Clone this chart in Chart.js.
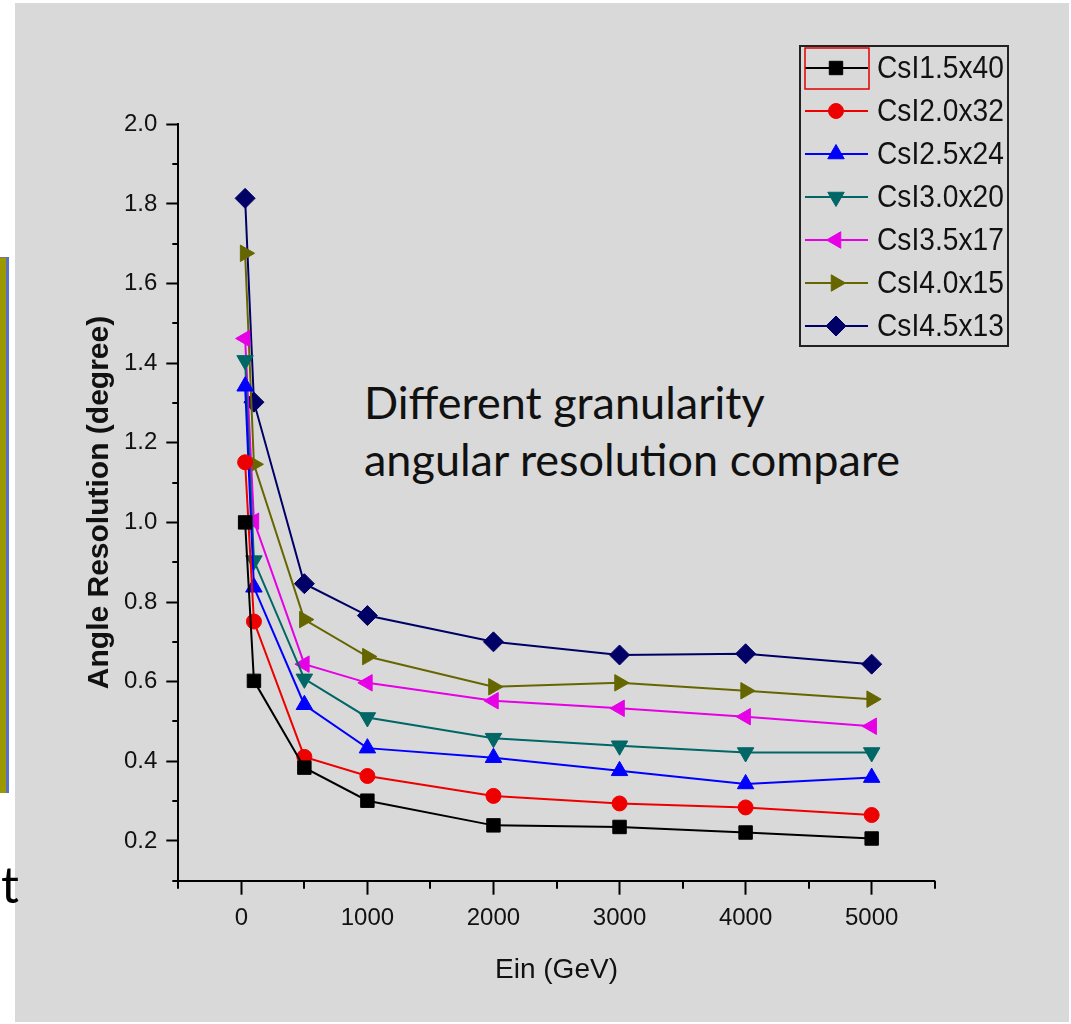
<!DOCTYPE html>
<html>
<head>
<meta charset="utf-8">
<script src="https://cdn.jsdelivr.net/npm/chart.js@4"></script>
<style>
  html, body { margin: 0; padding: 0; background: #ffffff; }
  body { width: 1071px; height: 1024px; position: relative; overflow: hidden; }
  #fondo { position: absolute; left: 15px; top: 3px; width: 1054px; height: 1019px; background: #d9d9d9; }
  #barra { position: absolute; left: 0; top: 257px; width: 6px; height: 535px; background: #9c9800; border-right: 3px solid #5b6fc4; border-top: 1px solid #777; }
  #nota { position: absolute; left: 364px; top: 374px; font-family: Lato, "Open Sans", sans-serif; font-size: 45px; line-height: 57px; color: #111; white-space: nowrap; }
  #letra { position: absolute; left: 1px; top: 854px; font-family: Lato, "Open Sans", sans-serif; font-size: 50px; line-height: 60px; color: #000; }
  #grafico { position: absolute; left: 0; top: 0; }
</style>
</head>
<body>
<div id="fondo"></div>
<div id="barra"></div>
<div id="letra">t</div>
<div id="nota">Different granularity<br>angular resolution compare</div>
<canvas id="grafico" width="1071" height="1024"></canvas>
<script>
// Energía incidente (GeV)
const energia = [30, 100, 500, 1000, 2000, 3000, 4000, 5000];

// Resolución angular (grados) por granularidad
const csi15x40 = [1.000, 0.602, 0.384, 0.301, 0.239, 0.235, 0.221, 0.206];
const csi20x32 = [1.151, 0.751, 0.411, 0.363, 0.313, 0.294, 0.284, 0.265];
const csi25x24 = [1.342, 0.837, 0.542, 0.433, 0.409, 0.376, 0.343, 0.359];
const csi30x20 = [1.407, 0.904, 0.607, 0.510, 0.458, 0.439, 0.422, 0.422];
const csi35x17 = [1.462, 1.003, 0.644, 0.597, 0.552, 0.533, 0.512, 0.488];
const csi40x15 = [1.676, 1.146, 0.756, 0.663, 0.587, 0.597, 0.577, 0.556];
const csi45x13 = [1.814, 1.302, 0.846, 0.766, 0.700, 0.667, 0.670, 0.644];

const nombres = ['CsI1.5x40', 'CsI2.0x32', 'CsI2.5x24', 'CsI3.0x20', 'CsI3.5x17', 'CsI4.0x15', 'CsI4.5x13'];

// Marcas de los ejes
const xTicks = [0, 1000, 2000, 3000, 4000, 5000];
const xMinor = [-500, 500, 1500, 2500, 3500, 4500, 5500];
const yTicks = [0.2, 0.4, 0.6, 0.8, 1.0, 1.2, 1.4, 1.6, 1.8, 2.0];
const yMinor = [0.1, 0.3, 0.5, 0.7, 0.9, 1.1, 1.3, 1.5, 1.7, 1.9];

const series = [csi15x40, csi20x32, csi25x24, csi30x20, csi35x17, csi40x15, csi45x13];
const colores = ['#000000', '#ee0000', '#0000ff', '#006666', '#e600e6', '#666600', '#000066'];
const estilos = ['rect', 'circle', 'triangle', 'triangle', 'triangle', 'triangle', 'rectRot'];
const giros = [0, 0, 0, 180, -90, 90, 0];
const radios = [9.5, 7.5, 9.5, 9.5, 9.5, 9.5, 10];

const datasets = series.map((valores, i) => ({
    label: nombres[i],
    data: valores.map((v, j) => ({ x: energia[j], y: v })),
    borderColor: colores[i],
    backgroundColor: colores[i],
    borderWidth: 2,
    pointStyle: estilos[i],
    rotation: giros[i],
    pointRadius: radios[i],
    pointBorderWidth: 1,
    pointBackgroundColor: colores[i],
    pointBorderColor: colores[i],
    tension: 0
}));

const fuente = '"Liberation Sans", Arial, sans-serif';

// Marcas menores y leyenda dibujadas sobre el gráfico
const extras = {
    id: 'extras',
    afterDraw(chart) {
        const ctx = chart.ctx;
        const x = chart.scales.x, y = chart.scales.y;
        const area = chart.chartArea;
        ctx.save();
        ctx.strokeStyle = '#000';
        ctx.lineWidth = 2;
        ctx.beginPath();
        yMinor.forEach(v => {
            const py = Math.round(y.getPixelForValue(v));
            ctx.moveTo(area.left, py);
            ctx.lineTo(area.left - 6, py);
        });
        xMinor.forEach(v => {
            const px = Math.round(x.getPixelForValue(v));
            ctx.moveTo(px, area.bottom);
            ctx.lineTo(px, area.bottom + 8);
        });
        ctx.stroke();

        // leyenda
        const caja = { left: 800, top: 46, right: 1008, bottom: 346 };
        ctx.strokeStyle = '#222';
        ctx.lineWidth = 2;
        ctx.strokeRect(caja.left, caja.top, caja.right - caja.left, caja.bottom - caja.top);
        ctx.font = '32px ' + fuente;
        ctx.textBaseline = 'middle';
        ctx.textAlign = 'left';
        chart.data.datasets.forEach((ds, i) => {
            const fy = 68 + i * 43;
            ctx.strokeStyle = ds.borderColor;
            ctx.lineWidth = 2;
            ctx.beginPath();
            ctx.moveTo(805, fy);
            ctx.lineTo(868, fy);
            ctx.stroke();
            ctx.fillStyle = ds.pointBackgroundColor;
            ctx.strokeStyle = ds.pointBorderColor;
            ctx.lineWidth = 1;
            Chart.helpers.drawPoint(ctx, {
                pointStyle: ds.pointStyle,
                rotation: ds.rotation,
                radius: ds.pointRadius,
                borderWidth: 1
            }, 836, fy);
            // texto estrechado como en el original
            ctx.save();
            ctx.translate(877, fy + 1);
            ctx.scale(0.88, 1);
            ctx.fillStyle = '#111';
            ctx.fillText(ds.label, 0, 0);
            ctx.restore();
        });
        // recuadro rojo de selección
        ctx.strokeStyle = '#e00000';
        ctx.lineWidth = 1.5;
        ctx.strokeRect(805, 48, 64, 41);
        ctx.restore();
    }
};

new Chart(document.getElementById('grafico'), {
    type: 'line',
    data: { datasets: datasets },
    options: {
        responsive: false,
        animation: false,
        layout: { padding: { top: 124.3, right: 136.3, left: 0, bottom: 0 } },
        plugins: {
            legend: { display: false },
            tooltip: { enabled: false }
        },
        scales: {
            x: {
                type: 'linear',
                min: -500,
                max: 5500,
                afterFit: s => { s.height = 143.3; },
                afterBuildTicks: s => { s.ticks = xTicks.map(v => ({ value: v })); },
                border: { display: true, color: '#000', width: 2 },
                grid: { display: true, drawOnChartArea: false, drawTicks: true, tickLength: 14, tickWidth: 2, tickColor: '#000' },
                ticks: {
                    color: '#111',
                    padding: 9,
                    maxRotation: 0,
                    font: { family: fuente, size: 24 },
                    callback: v => String(v)
                },
                title: {
                    display: true,
                    text: 'Ein (GeV)',
                    color: '#111',
                    font: { family: fuente, size: 28 },
                    padding: { top: 0, bottom: 37 }
                }
            },
            y: {
                type: 'linear',
                min: 0.1,
                max: 2.0,
                afterFit: s => { s.width = 178.3; },
                afterBuildTicks: s => { s.ticks = yTicks.map(v => ({ value: v })); },
                border: { display: true, color: '#000', width: 2 },
                grid: { display: true, drawOnChartArea: false, drawTicks: true, tickLength: 12, tickWidth: 2, tickColor: '#000' },
                ticks: {
                    color: '#111',
                    padding: 9,
                    font: { family: fuente, size: 24 },
                    callback: v => v.toFixed(1)
                },
                title: {
                    display: true,
                    text: 'Angle Resolution (degree)',
                    color: '#111',
                    font: { family: fuente, size: 30, weight: 'bold' },
                    padding: { top: 82, bottom: 0 }
                }
            }
        }
    },
    plugins: [extras]
});
</script>
</body>
</html>
